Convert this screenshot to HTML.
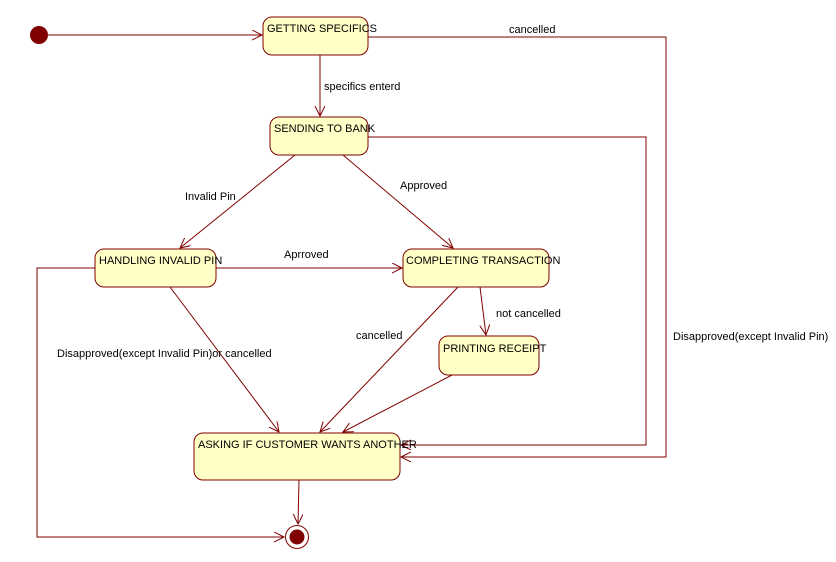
<!DOCTYPE html>
<html><head><style>body{margin:0;background:#fff}svg text{font-family:"Liberation Sans",sans-serif;font-size:11px;fill:#000}</style></head><body>
<svg width="836" height="557" viewBox="0 0 836 557" xmlns="http://www.w3.org/2000/svg">
<defs><marker id="a" markerWidth="12" markerHeight="12" refX="10" refY="5" orient="auto" markerUnits="userSpaceOnUse"><path d="M0,0 L10,5 L0,10" fill="none" stroke="#800000" stroke-width="1"/></marker></defs>
<g stroke="#800000" stroke-width="1" fill="none">
<line x1="48" y1="35" x2="262" y2="35" marker-end="url(#a)"/>
<polyline points="368,37 666,37 666,457 401,457" marker-end="url(#a)"/>
<polyline points="368,137 646,137 646,445 401,445" marker-end="url(#a)"/>
<line x1="320" y1="55" x2="320" y2="116" marker-end="url(#a)"/>
<line x1="295" y1="155" x2="180" y2="248" marker-end="url(#a)"/>
<line x1="343" y1="155" x2="453" y2="248" marker-end="url(#a)"/>
<line x1="216" y1="268" x2="402" y2="268" marker-end="url(#a)"/>
<polyline points="95,268 37,268 37,537 284,537" marker-end="url(#a)"/>
<line x1="170" y1="287" x2="279" y2="432" marker-end="url(#a)"/>
<line x1="458" y1="287" x2="320" y2="432" marker-end="url(#a)"/>
<line x1="480" y1="287" x2="486" y2="335" marker-end="url(#a)"/>
<line x1="452" y1="375" x2="343" y2="432" marker-end="url(#a)"/>
<line x1="299" y1="480" x2="298" y2="524" marker-end="url(#a)"/>
</g>
<g fill="#ffffc6" stroke="#800000" stroke-width="1">
<rect x="263" y="17" width="105" height="38" rx="9"/>
<rect x="270" y="117" width="98" height="38" rx="9"/>
<rect x="95" y="249" width="121" height="38" rx="9"/>
<rect x="403" y="249" width="146" height="38" rx="9"/>
<rect x="439" y="336" width="100" height="39" rx="9"/>
<rect x="194" y="433" width="206" height="47" rx="9"/>
</g>
<circle cx="39" cy="35" r="9" fill="#800000"/>
<circle cx="297" cy="537" r="11.5" fill="#fff" stroke="#800000"/>
<circle cx="297" cy="537" r="7.5" fill="#800000"/>
<text x="267" y="32">GETTING SPECIFICS</text>
<text x="274" y="132">SENDING TO BANK</text>
<text x="99" y="264">HANDLING INVALID PIN</text>
<text x="406" y="264">COMPLETING TRANSACTION</text>
<text x="443" y="352">PRINTING RECEIPT</text>
<text x="198" y="448">ASKING IF CUSTOMER WANTS ANOTHER</text>
<text x="509" y="33">cancelled</text>
<text x="324" y="90">specifics enterd</text>
<text x="185" y="200">Invalid Pin</text>
<text x="400" y="189">Approved</text>
<text x="284" y="258">Aprroved</text>
<text x="57" y="357">Disapproved(except Invalid Pin)or cancelled</text>
<text x="356" y="339">cancelled</text>
<text x="496" y="317">not cancelled</text>
<text x="673" y="340">Disapproved(except Invalid Pin)</text>
</svg>
</body></html>
